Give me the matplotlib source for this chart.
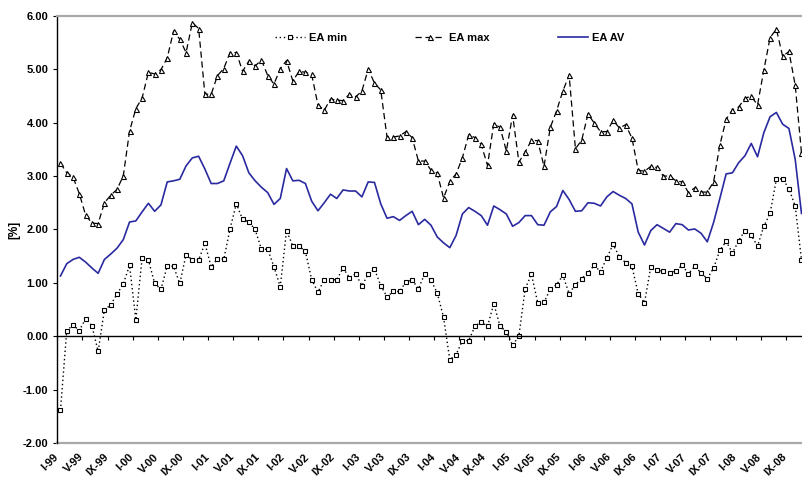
import numpy as np
import matplotlib
matplotlib.use("Agg")
import matplotlib.pyplot as plt

plt.rcParams['font.family'] = ['Liberation Sans', 'DejaVu Sans']

# Monthly categories I-99 ... XI-08
roman = ["I", "II", "III", "IV", "V", "VI", "VII", "VIII", "IX", "X", "XI", "XII"]
years = ["99", "00", "01", "02", "03", "04", "05", "06", "07", "08"]
months = [f"{m}-{y}" for y in years for m in roman][:119]

ea_min = [-1.38, 0.11, 0.21, 0.11, 0.33, 0.20, -0.28, 0.50, 0.59, 0.79,
          0.98, 1.33, 0.31, 1.47, 1.43, 0.99, 0.88, 1.32, 1.31, 0.99,
          1.53, 1.43, 1.43, 1.74, 1.30, 1.45, 1.44, 2.01, 2.48, 2.19,
          2.14, 2.00, 1.63, 1.63, 1.30, 0.93, 1.98, 1.69, 1.69, 1.59,
          1.06, 0.83, 1.06, 1.06, 1.06, 1.28, 1.10, 1.17, 0.95, 1.16,
          1.26, 0.95, 0.74, 0.84, 0.84, 1.02, 1.06, 0.89, 1.17, 1.05,
          0.81, 0.36, -0.44, -0.34, -0.08, -0.08, 0.19, 0.27, 0.19, 0.61,
          0.19, 0.09, -0.17, 0.01, 0.89, 1.16, 0.63, 0.64, 0.88, 0.97,
          1.14, 0.80, 0.97, 1.08, 1.19, 1.33, 1.21, 1.47, 1.72, 1.49,
          1.38, 1.31, 0.80, 0.63, 1.30, 1.24, 1.22, 1.19, 1.23, 1.33,
          1.17, 1.31, 1.19, 1.08, 1.28, 1.61, 1.78, 1.56, 1.79, 1.98,
          1.89, 1.69, 2.06, 2.30, 2.94, 2.95, 2.76, 2.44, 1.43]

ea_max = [3.24, 3.06, 2.98, 2.67, 2.27, 2.12, 2.11, 2.50, 2.64, 2.75,
          3.00, 3.84, 4.26, 4.46, 4.94, 4.91, 4.99, 5.21, 5.71, 5.56,
          5.31, 5.87, 5.76, 4.53, 4.53, 4.88, 5.01, 5.31, 5.31, 4.96,
          5.15, 5.06, 5.17, 4.88, 4.72, 5.01, 5.16, 4.78, 4.96, 4.94,
          4.90, 4.33, 4.23, 4.44, 4.42, 4.41, 4.53, 4.48, 4.59, 5.00,
          4.74, 4.61, 3.73, 3.73, 3.75, 3.83, 3.72, 3.28, 3.28, 3.11,
          3.05, 2.59, 2.90, 3.04, 3.34, 3.77, 3.72, 3.59, 3.20, 3.98,
          3.91, 3.47, 4.14, 3.26, 3.45, 3.67, 3.66, 3.18, 3.91, 4.22,
          4.59, 4.89, 3.51, 3.67, 4.16, 3.99, 3.83, 3.83, 4.04, 3.90,
          3.96, 3.71, 3.11, 3.09, 3.18, 3.16, 3.00, 3.00, 2.91, 2.89,
          2.69, 2.78, 2.70, 2.70, 2.89, 3.58, 4.06, 4.24, 4.29, 4.46,
          4.49, 4.33, 4.98, 5.59, 5.75, 5.24, 5.33, 4.70, 3.43]

ea_av = [1.13, 1.36, 1.44, 1.48, 1.39, 1.28, 1.18, 1.44, 1.54, 1.65,
         1.81, 2.14, 2.16, 2.33, 2.49, 2.34, 2.46, 2.89, 2.91, 2.94,
         3.19, 3.34, 3.37, 3.13, 2.86, 2.86, 2.91, 3.24, 3.56, 3.38,
         3.06, 2.91, 2.79, 2.69, 2.47, 2.58, 3.14, 2.91, 2.92, 2.86,
         2.53, 2.35, 2.50, 2.66, 2.58, 2.74, 2.72, 2.72, 2.61, 2.89,
         2.88, 2.48, 2.21, 2.24, 2.17, 2.26, 2.34, 2.09, 2.19, 2.08,
         1.86, 1.75, 1.66, 1.89, 2.29, 2.41, 2.34, 2.26, 2.08, 2.44,
         2.37, 2.29, 2.06, 2.13, 2.26, 2.26, 2.09, 2.08, 2.33, 2.43,
         2.73, 2.56, 2.34, 2.35, 2.50, 2.49, 2.44, 2.61, 2.71, 2.64,
         2.58, 2.48, 1.95, 1.71, 1.98, 2.09, 2.02, 1.95, 2.11, 2.09,
         1.99, 2.01, 1.93, 1.77, 2.13, 2.58, 3.04, 3.06, 3.25, 3.38,
         3.61, 3.36, 3.81, 4.11, 4.19, 3.97, 3.89, 3.31, 2.30]

x = np.arange(len(months))

fig = plt.figure(figsize=(8.03, 4.78), dpi=100)
ax = fig.add_axes([0.0714, 0.0726, 0.9286, 0.8946])

ax.plot(x, ea_min, color='black', lw=1.0, linestyle=(0, (1, 2)),
        marker='s', markersize=3.2, mfc='white', mec='black', mew=0.8, label='EA min')
ax.plot(x, ea_max, color='black', lw=0.9, linestyle=(0, (5, 3)),
        marker='^', markersize=3.6, mfc='white', mec='black', mew=0.8, label='EA max')
ax.plot(x, ea_av, color='#2a2aa0', lw=1.2, label='EA AV')

ax.set_xlim(-0.5, 118.24)
ax.set_ylim(-2, 6)

# y axis
ax.set_yticks(np.arange(-2, 7, 1))
ax.yaxis.set_major_formatter(matplotlib.ticker.FormatStrFormatter('%.2f'))
ax.tick_params(axis='y', direction='out', length=3, width=0.8, pad=3.5,
               labelsize=8)
for lbl in ax.get_yticklabels():
    lbl.set_fontweight('bold')
ax.set_ylabel('[%]', fontsize=8.5, fontweight='bold', labelpad=2)

# x axis drawn at zero, ticks between category groups
ax.spines['bottom'].set_position(('data', 0))
ax.spines['bottom'].set_color('black')
ax.spines['bottom'].set_linewidth(1.0)
ax.set_xticks(np.arange(-0.5, len(months), 4))
ax.tick_params(axis='x', direction='out', length=3, width=0.8, labelbottom=False)

ax.spines['left'].set_color('black')
ax.spines['left'].set_linewidth(1.0)
ax.spines['right'].set_visible(False)
ax.spines['top'].set_color('#a8a8a8')
ax.spines['top'].set_linewidth(1.6)
ax.axhline(-2, color='#a8a8a8', lw=1.6, clip_on=False)

# category labels at the bottom
sec = ax.secondary_xaxis('bottom')
sec.spines['bottom'].set_visible(False)
sec.set_xticks(x[::4])
sec.set_xticklabels(months[::4], rotation=45, ha='right', va='top',
                    fontsize=8, fontweight='bold')
sec.tick_params(axis='x', length=0, pad=6)

fig.legend(loc='center', bbox_to_anchor=(0.5598, 0.9205), ncol=3, frameon=False,
           prop={'size': 8, 'weight': 'bold'}, handlelength=2.7,
           handletextpad=0.36, columnspacing=6.1)

fig.savefig('out.png', dpi=100)
